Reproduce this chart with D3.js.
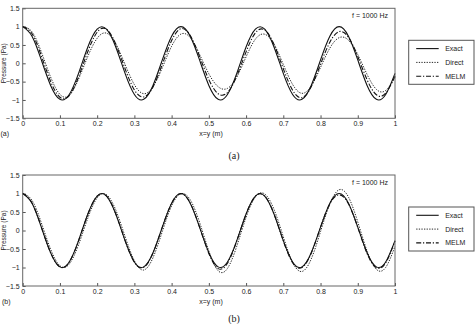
<!DOCTYPE html>
<html>
<head>
<meta charset="utf-8">
<script src="https://cdn.jsdelivr.net/npm/d3@7"></script>
<style>
  body { margin: 0; background: #fff; }
  svg { display: block; }
  text { font-family: "Liberation Sans", Arial, sans-serif; fill: #222; }
</style>
</head>
<body>
<div class="canvas"></div>
<script>
// data (x = y position, pressure in Pa)
//---------------------------
var xs = [0, 0.025, 0.05, 0.075, 0.1, 0.125, 0.15, 0.175, 0.2, 0.225, 0.25, 0.275, 0.3, 0.325, 0.35,
          0.375, 0.4, 0.425, 0.45, 0.475, 0.5, 0.525, 0.55, 0.575, 0.6, 0.625, 0.65, 0.675, 0.7, 0.725,
          0.75, 0.775, 0.8, 0.825, 0.85, 0.875, 0.9, 0.925, 0.95, 0.975, 1];

var exact = [1, 0.739, 0.092, -0.603, -0.983, -0.850, -0.274, 0.446, 0.932, 0.932, 0.446, -0.274, -0.850, -0.983, -0.603,
             0.092, 0.739, 1, 0.739, 0.092, -0.603, -0.983, -0.850, -0.274, 0.446, 0.932, 0.932, 0.446, -0.274, -0.850,
             -0.983, -0.603, 0.092, 0.739, 1, 0.739, 0.092, -0.603, -0.983, -0.850, -0.274];

// panel (a)
var directA = [1, 0.858, 0.310, -0.375, -0.848, -0.874, -0.433, 0.190, 0.682, 0.823, 0.534, -0.033, -0.583, -0.829, -0.642,
               -0.120, 0.465, 0.797, 0.701, 0.245, -0.287, -0.638, -0.684, -0.374, 0.176, 0.658, 0.793, 0.521, -0.033, -0.576,
               -0.819, -0.618, -0.111, 0.414, 0.700, 0.631, 0.239, -0.303, -0.711, -0.741, -0.384];
var melmA = [1, 0.806, 0.206, -0.494, -0.925, -0.880, -0.371, 0.323, 0.848, 0.930, 0.522, -0.148, -0.726, -0.918, -0.644,
             -0.025, 0.620, 0.943, 0.757, 0.189, -0.444, -0.830, -0.798, -0.347, 0.312, 0.830, 0.911, 0.516, -0.148, -0.734,
             -0.938, -0.638, -0.024, 0.575, 0.864, 0.708, 0.185, -0.449, -0.859, -0.816, -0.347];

// panel (b)
var directB = [1, 0.814, 0.210, -0.504, -0.954, -0.907, -0.386, 0.336, 0.883, 0.969, 0.554, -0.162, -0.820, -1.068, -0.735,
               -0.028, 0.666, 0.993, 0.830, 0.223, -0.554, -1.088, -1.025, -0.425, 0.356, 0.909, 0.988, 0.571, -0.168, -0.859,
               -1.108, -0.769, -0.030, 0.718, 1.102, 0.904, 0.231, -0.554, -1.049, -0.998, -0.425];
var melmB = [1, 0.745, 0.098, -0.598, -0.985, -0.856, -0.280, 0.440, 0.930, 0.935, 0.452, -0.270, -0.860, -0.995, -0.610,
             0.090, 0.735, 0.995, 0.742, 0.095, -0.620, -1.030, -0.885, -0.285, 0.440, 0.925, 0.930, 0.450, -0.280, -0.870,
             -1.000, -0.615, 0.090, 0.720, 0.965, 0.720, 0.085, -0.620, -1.010, -0.875, -0.280];

var xTicks = [0, 0.1, 0.2, 0.3, 0.4, 0.5, 0.6, 0.7, 0.8, 0.9, 1];
var yTicks = [-1.5, -1, -0.5, 0, 0.5, 1, 1.5];
var seriesNames = ['Exact', 'Direct', 'MELM'];
var freqLabel = 'f = 1000 Hz';
//---------------------------

var styles = {
    Exact:  { dash: null,      width: 1.1 },
    Direct: { dash: '1.3,1.3', width: 0.9 },
    MELM:   { dash: '5,1.8,1.2,1.8', width: 1.1 }
};

const svg = d3.select('.canvas').append('svg')
    .attr('width', 476)
    .attr('height', 324);

// one panel = plot box + axes + legend + captions
function drawPanel(top, bottom, series, tag, caption) {
    const x = d3.scaleLinear().domain([0, 1]).range([22.7, 395]);
    const y = d3.scaleLinear().domain([-1.5, 1.5]).range([bottom, top]);

    const g = svg.append('g');

    // axes, MATLAB style ticks pointing inward
    g.append('g')
        .attr('transform', `translate(0, ${bottom})`)
        .call(d3.axisBottom(x).tickValues(xTicks).tickSizeInner(-3).tickSizeOuter(0)
            .tickFormat(d => d3.format('')(d)))
        .call(a => a.select('.domain').remove())
        .call(a => a.selectAll('line').attr('stroke', '#555'))
        .call(a => a.selectAll('text').attr('font-size', 7).attr('dy', '0.5em')
            .attr('y', 4).attr('fill', '#222'));

    g.append('g')
        .attr('transform', `translate(${x(0)}, 0)`)
        .call(d3.axisLeft(y).tickValues(yTicks).tickSizeInner(-3).tickSizeOuter(0)
            .tickFormat(d => d3.format('')(d)))
        .call(a => a.select('.domain').remove())
        .call(a => a.selectAll('line').attr('stroke', '#555'))
        .call(a => a.selectAll('text').attr('font-size', 7).attr('x', -3).attr('fill', '#222'));

    // curves
    const line = d3.line()
        .x((d, i) => x(xs[i]))
        .y(d => y(d))
        .curve(d3.curveNatural);

    series.forEach((vals, k) => {
        const st = styles[seriesNames[k]];
        g.append('path')
            .attr('d', line(vals))
            .attr('fill', 'none')
            .attr('stroke', '#111')
            .attr('stroke-width', st.width)
            .attr('stroke-dasharray', st.dash);
    });

    // frame
    g.append('rect')
        .attr('x', x(0)).attr('y', top)
        .attr('width', x(1) - x(0)).attr('height', bottom - top)
        .attr('fill', 'none').attr('stroke', '#666').attr('stroke-width', 1);

    g.append('text')
        .attr('x', 388).attr('y', top + 10)
        .attr('text-anchor', 'end').attr('font-size', 7)
        .text(freqLabel);

    // axis titles
    g.append('text')
        .attr('x', 211).attr('y', bottom + 18)
        .attr('text-anchor', 'middle').attr('font-size', 7)
        .text('x=y (m)');

    g.append('text')
        .attr('transform', `translate(6, ${y(0)}) rotate(-90)`)
        .attr('text-anchor', 'middle').attr('font-size', 6.5)
        .text('Pressure (Pa)');

    g.append('text')
        .attr('x', tag.x).attr('y', bottom + 18)
        .attr('font-size', 7)
        .text(tag.label);

    g.append('text')
        .attr('x', 234).attr('y', caption.y)
        .attr('text-anchor', 'middle').attr('font-size', 10)
        .style('font-family', '"Liberation Serif", "Times New Roman", serif')
        .text(caption.label);

    // legend
    const lg = g.append('g').attr('transform', `translate(408.7, ${top + 32})`);
    lg.append('rect')
        .attr('width', 65.3).attr('height', 44)
        .attr('fill', '#fff').attr('stroke', '#555').attr('stroke-width', 1);
    seriesNames.forEach((name, k) => {
        const yy = 8.3 + k * 13.8;
        lg.append('line')
            .attr('x1', 7.5).attr('x2', 30)
            .attr('y1', yy).attr('y2', yy)
            .attr('stroke', '#111')
            .attr('stroke-width', styles[name].width)
            .attr('stroke-dasharray', styles[name].dash);
        lg.append('text')
            .attr('x', 36.5).attr('y', yy + 2.5)
            .attr('font-size', 7)
            .text(name);
    });
}

drawPanel(8.3, 118.3, [exact, directA, melmA], { x: 0.5, label: '(a)' }, { y: 158.5, label: '(a)' });
drawPanel(175, 286, [exact, directB, melmB], { x: 2, label: '(b)' }, { y: 321.5, label: '(b)' });
</script>
</body>
</html>
